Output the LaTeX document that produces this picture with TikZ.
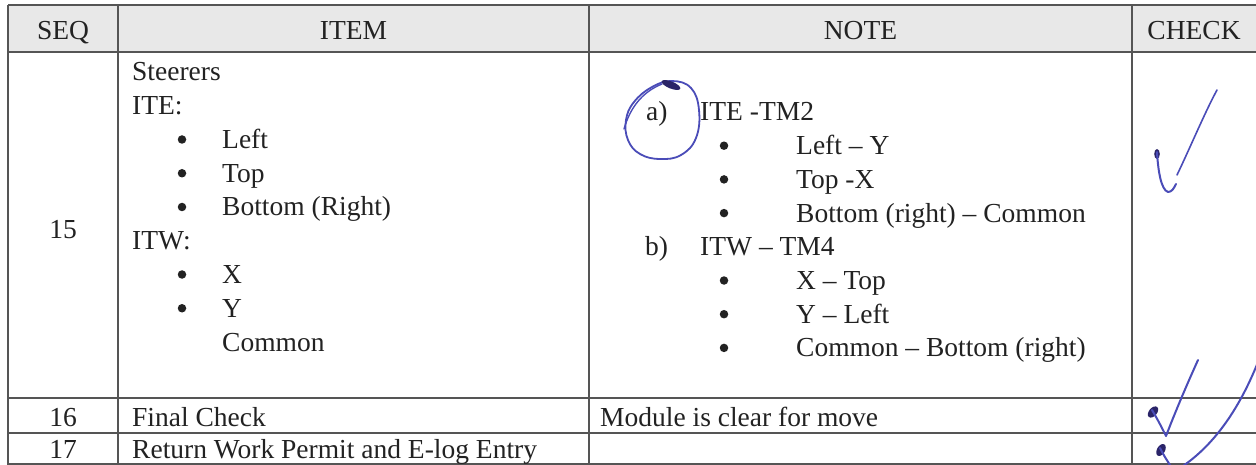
\documentclass[tikz,border=0pt]{standalone}
\usepackage{fontspec}
\setmainfont{Liberation Serif}
\definecolor{ink}{HTML}{222222}
\definecolor{gridc}{HTML}{555555}
\definecolor{pen}{HTML}{4a4cb8}
\definecolor{pendark}{HTML}{2a2468}
\definecolor{hdr}{HTML}{e8e8e8}
\tikzset{
  txt/.style={anchor=base west, inner sep=0pt, text=ink, font=\fontsize{27.5}{33}\selectfont},
  ctxt/.style={txt, anchor=base},
  dot/.style={circle, fill=ink, inner sep=0pt, minimum size=8.5pt},
  gridline/.style={draw=gridc, line width=1.7pt},
  pencil/.style={draw=pen, line width=2pt, line cap=round, line join=round},
}
\begin{document}
\begin{tikzpicture}[x=1pt,y=-1pt]
\useasboundingbox (0,0) rectangle (1256,465);
\fill[white] (0,0) rectangle (1256,465);
\fill[hdr] (8,5) rectangle (1256,52);
% grid
\draw[gridline] (8,5) -- (1256,5);
\draw[gridline, line width=2.6pt] (8,52) -- (1256,52);
\draw[gridline, line width=2.2pt] (8,398) -- (1256,398);
\draw[gridline, line width=2.2pt] (8,433) -- (1256,433);
\draw[gridline] (8,464) -- (1256,464);
\draw[gridline] (8,5) -- (8,465);
\draw[gridline] (118,5) -- (118,465);
\draw[gridline] (589,5) -- (589,465);
\draw[gridline] (1132,5) -- (1132,465);
% header
\node[ctxt] (hseq) at (63,40) {SEQ};
\node[ctxt] (hitem) at (353.5,40) {ITEM};
\node[ctxt] (hnote) at (860.5,40) {NOTE};
\node[ctxt] (hcheck) at (1194,40) {CHECK};
% row 15
\node[ctxt] (s15) at (63,239) {15};
\node[txt] (i1) at (132,81) {Steerers};
\node[txt] (i2) at (132,114.75) {ITE:};
\node[dot] (b1) at (182,139.5) {};
\node[txt] (i3) at (222,148.5) {Left};
\node[dot] (b2) at (182,173.25) {};
\node[txt] (i4) at (222,182.25) {Top};
\node[dot] (b3) at (182,207) {};
\node[txt] (i5) at (222,216) {Bottom (Right)};
\node[txt] (i6) at (132,249.75) {ITW:};
\node[dot] (b4) at (182,274.5) {};
\node[txt] (i7) at (222,283.5) {X};
\node[dot] (b5) at (182,308.25) {};
\node[txt] (i8) at (222,317.25) {Y};
\node[txt] (i9) at (222,351) {Common};
% notes
\node[txt] (na) at (646,121) {a)};
\node[txt] (n1) at (700,121) {ITE -TM2};
\node[dot] (nb1) at (724,145.7) {};
\node[txt] (n2) at (796,154.7) {Left – Y};
\node[dot] (nb2) at (724,179.4) {};
\node[txt] (n3) at (796,188.4) {Top -X};
\node[dot] (nb3) at (724,213.1) {};
\node[txt] (n4) at (796,222.1) {Bottom (right) – Common};
\node[txt] (nbb) at (645,255.8) {b)};
\node[txt] (n5) at (700,255.8) {ITW – TM4};
\node[dot] (nb4) at (724,280.5) {};
\node[txt] (n6) at (796,289.5) {X – Top};
\node[dot] (nb5) at (724,314.2) {};
\node[txt] (n7) at (796,323.2) {Y – Left};
\node[dot] (nb6) at (724,347.9) {};
\node[txt] (n8) at (796,356.9) {Common – Bottom (right)};
% row 16
\node[ctxt] (s16) at (63,426) {16};
\node[txt] (i16) at (132,426) {Final Check};
\node[txt] (n16) at (600,426) {Module is clear for move};
% row 17
\node[ctxt] (s17) at (63,458) {17};
\node[txt] (i17) at (132,458) {Return Work Permit and E-log Entry};
% hand-drawn circle around a)
\draw[pencil, line width=1.8pt] plot[smooth cycle, tension=0.7] coordinates {(672,81) (691,88) (699,110) (696,138) (681,155) (660,159) (640,154) (628,140) (626,120) (634,102) (652,87)};
\draw[pencil, line width=1.4pt] (624,129) .. controls (630,108) and (642,92) .. (662,84);
\fill[pendark, rotate around={-22:(671,85)}] (671,85) ellipse (10 and 3.5);
% check 1
\fill[pendark] (1157,154) ellipse (2.8 and 5);
\draw[pencil] (1157,152) .. controls (1158,170) and (1161,190) .. (1168,192) .. controls (1172,192) and (1174,188) .. (1176,184);
\draw[pencil, line width=1.6pt] (1177,175) .. controls (1190,148) and (1205,112) .. (1217,90);
% check 2
\fill[pendark, rotate around={50:(1153,412)}] (1153,412) ellipse (6.5 and 4);
\draw[pencil] (1152,410) .. controls (1158,420) and (1163,430) .. (1166,436) .. controls (1176,410) and (1188,382) .. (1198,360);
% check 3
\fill[pendark, rotate around={60:(1161,450)}] (1161,450) ellipse (6.5 and 4);
\draw[pencil] (1160,448) .. controls (1164,456) and (1168,462) .. (1172,468);
\draw[pencil] (1180,468) .. controls (1212,447) and (1238,412) .. (1258,362);
\end{tikzpicture}
\end{document}
